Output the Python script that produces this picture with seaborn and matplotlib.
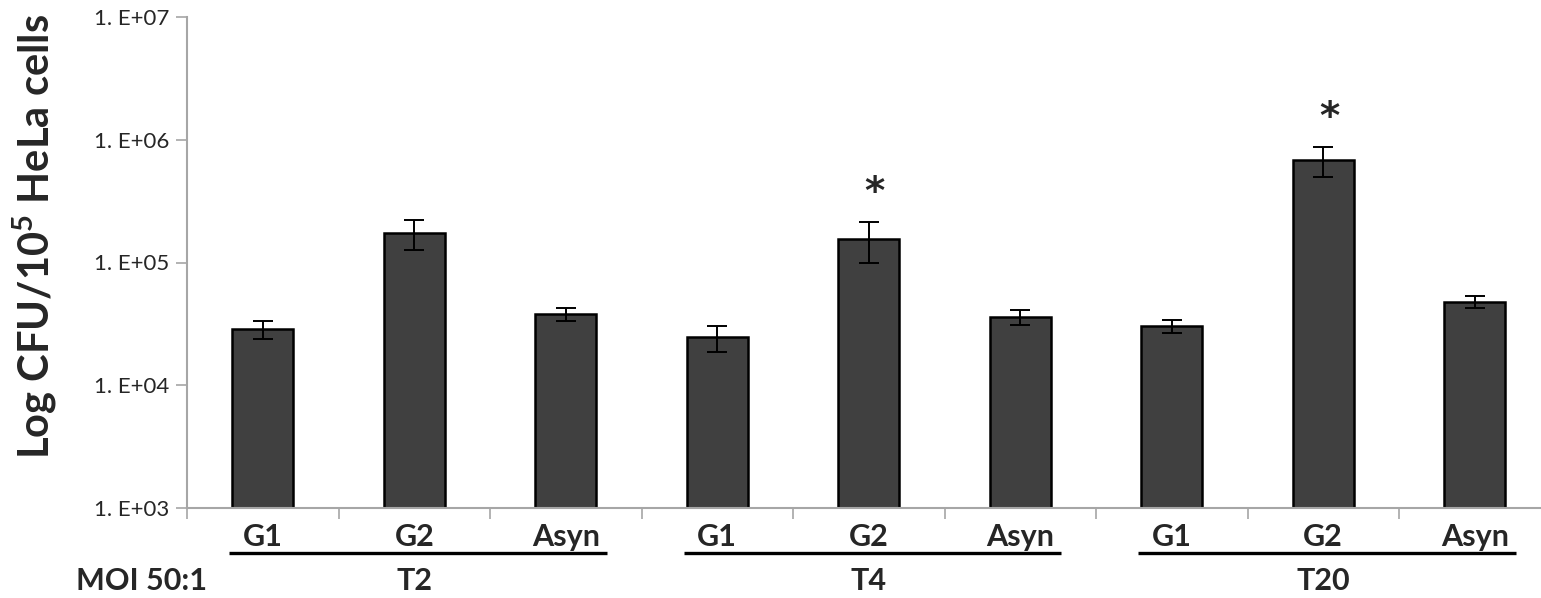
import numpy as np
import pandas as pd
import matplotlib
matplotlib.use("Agg")
import matplotlib.pyplot as plt
import matplotlib.ticker as mticker
import seaborn as sns

# ── data ────────────────────────────────────────────────
groups     = ["T2", "T4", "T20"]
phases     = ["G1", "G2", "Asyn"]
cfu_mean   = [28700, 175000, 38000,
              24500, 156000, 36000,
              30300, 690000, 48000]
cfu_err    = [4800, 49000, 4700,
              6000, 57000, 5200,
              3500, 190000, 5800]
signif     = [False, False, False,
              False, True, False,
              False, True, False]
ytick_vals = [1e3, 1e4, 1e5, 1e6, 1e7]
ytick_labs = ["1. E+03", "1. E+04", "1. E+05", "1. E+06", "1. E+07"]

df = pd.DataFrame({
    "key":   [f"{g} {p}" for g in groups for p in phases],
    "phase": [p for g in groups for p in phases],
    "cfu":   cfu_mean,
})

# ── style ───────────────────────────────────────────────
sns.set_style("white")
plt.rcParams["font.family"] = ["Lato", "DejaVu Sans"]
plt.rcParams["mathtext.fontset"] = "custom"
plt.rcParams["mathtext.rm"] = "Lato"
plt.rcParams["mathtext.bf"] = "Lato:bold"

W, H = 1541, 598
fig = plt.figure(figsize=(W / 100, H / 100), dpi=100)
ax_l, ax_r, ax_t, ax_b = 187, 1550.5, 17, 508
ax = fig.add_axes([ax_l / W, (H - ax_b) / H, (ax_r - ax_l) / W, (ax_b - ax_t) / H])

sns.barplot(data=df, x="key", y="cfu", color="#404040", saturation=1,
            width=0.4, edgecolor="black", linewidth=1.8, errorbar=None, ax=ax)
xs = np.arange(len(cfu_mean))
ax.errorbar(xs, cfu_mean, yerr=cfu_err, fmt="none", ecolor="black",
            elinewidth=1.4, capsize=7, capthick=1.4)

ax.set_yscale("log")
ax.set_ylim(1e3, 1e7)
ax.set_xlim(-0.5, len(cfu_mean) - 0.5)
ax.yaxis.set_major_locator(mticker.FixedLocator(ytick_vals))
ax.yaxis.set_minor_locator(mticker.NullLocator())
ax.yaxis.set_major_formatter(mticker.FixedFormatter(ytick_labs))

# x ticks at category boundaries, no labels
ax.set_xticks(np.arange(-0.5, len(cfu_mean), 1.0))
ax.set_xticklabels([])
ax.tick_params(axis="both", direction="out", length=8, width=1.2,
               color="#a6a6a6", left=True, bottom=True, pad=5, labelsize=16)
for s in ["top", "right"]:
    ax.spines[s].set_visible(False)
for s in ["left", "bottom"]:
    ax.spines[s].set_color("#a6a6a6")
    ax.spines[s].set_linewidth(1.5)

ax.set_xlabel("")
ax.set_ylabel("")

# significance stars
for x, m, e, s in zip(xs, cfu_mean, cfu_err, signif):
    if s:
        ax.annotate("*", xy=(x, m + e), xytext=(6, 29), textcoords="offset pixels",
                    ha="center", va="center", fontsize=28, fontweight="bold",
                    family="DejaVu Sans")

# phase labels, underlines and group labels below the axis
def ay(ypix):
    return (ax_b - ypix) / (ax_b - ax_t)

trans = ax.get_xaxis_transform()
for x, p in zip(xs, df["phase"]):
    ax.text(x, ay(537), p, transform=trans, ha="center", va="center",
            fontsize=22, fontweight="bold")
for gi, g in enumerate(groups):
    x0, x1 = 3 * gi - 0.22, 3 * gi + 2.27
    ax.plot([x0, x1], [ay(553), ay(553)], transform=trans, color="black",
            lw=2.4, clip_on=False, solid_capstyle="butt")
    ax.text(3 * gi + 1, ay(581), g, transform=trans, ha="center", va="center",
            fontsize=22, fontweight="bold")

fig.text(141 / W, 1 - 581 / H, "MOI 50:1", ha="center", va="center",
         fontsize=22, fontweight="bold")
fig.text(35 / W, 1 - 237 / H, "Log CFU/10$^{\\mathbf{5}}$ HeLa cells", rotation=90,
         ha="center", va="center", fontsize=30, fontweight="bold")

fig.savefig("out.png", dpi=100)
